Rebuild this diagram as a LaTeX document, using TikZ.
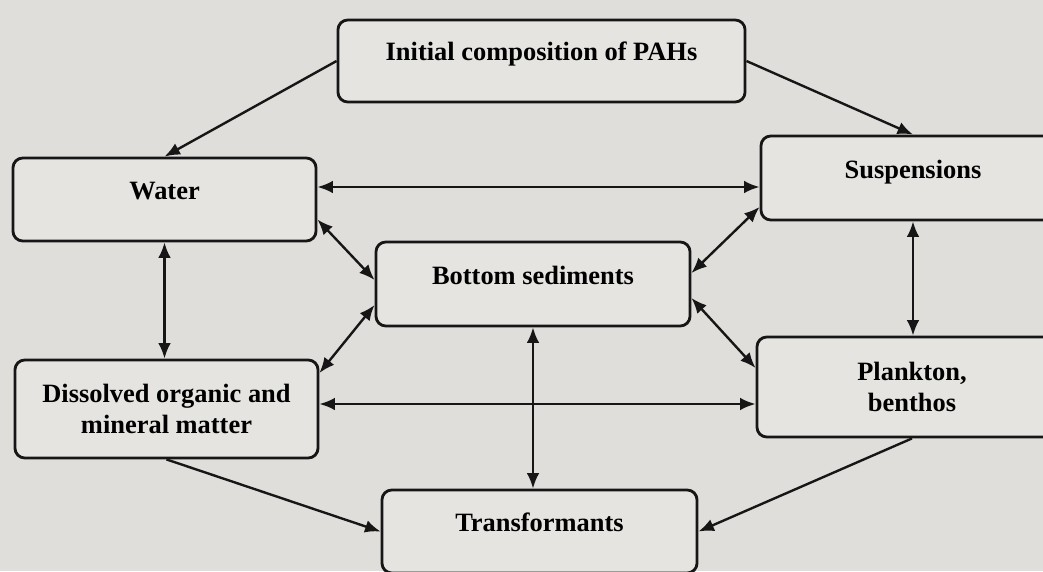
\documentclass[tikz,border=0pt]{standalone}
\usepackage{fontspec}
\setmainfont{Liberation Serif}
\usetikzlibrary{arrows.meta}
\definecolor{paper}{RGB}{223,222,219}
\definecolor{boxbg}{RGB}{229,228,225}
\definecolor{ink}{RGB}{22,22,22}

\begin{document}
\begin{tikzpicture}[x=0.025cm, y=-0.025cm,
      box/.style={draw=ink, fill=boxbg, line width=2pt, rounded corners=7pt,
                  font=\fontsize{18.8}{22.5}\selectfont\bfseries,
                  align=center, inner sep=2pt},
      onel/.style={text height=0.45cm, text depth=0.45cm},
      arr/.style={->, >={Latex[length=11pt,width=9pt]}, line width=1.7pt, draw=ink},
      biarr/.style={arr, <->}
  ]
    \path[use as bounding box, fill=paper] (0,0) rectangle (1043,571);
    \clip (0,0) rectangle (1043,571);

    \node[box, onel, minimum width=10.175cm, minimum height=2.05cm] (init) at (541.5,61) {Initial composition of PAHs};
    \node[box, onel, minimum width=7.575cm, minimum height=2.075cm] (water) at (164.5,199.5) {Water};
    \node[box, onel, minimum width=7.6cm, minimum height=2.1cm] (susp) at (913,178) {Suspensions};
    \node[box, onel, minimum width=7.85cm, minimum height=2.1cm] (bottom) at (533,284) {Bottom sediments};
    \node[box, minimum width=7.575cm, minimum height=2.45cm] (dissolved) at (166.5,409) {Dissolved organic and\\ mineral matter};
    \node[box, minimum width=7.75cm, minimum height=2.5cm] (plankton) at (912,387) {Plankton,\\ benthos};
    \node[box, onel, minimum width=7.875cm, minimum height=2.075cm] (trans) at (539.5,531.5) {Transformants};

    \coordinate (rowtop) at (0,187);
    \coordinate (rowmid) at (0,404);

    \draw[arr] (init.west) -- (water.north);
    \draw[arr] (init.east) -- (susp.north);
    \draw[biarr] (water.east |- rowtop) -- (susp.west |- rowtop);
    \draw[biarr] (water.south) -- (water.south |- dissolved.north);
    \draw[biarr] ([yshift=-0.5cm]water.east) -- ([yshift=0.1cm]bottom.west);
    \draw[biarr] ([yshift=-0.725cm]susp.west) -- ([yshift=0.275cm]bottom.east);
    \draw[biarr] ([yshift=-0.525cm]bottom.west) -- ([yshift=0.9cm]dissolved.east);
    \draw[biarr] ([yshift=-0.35cm]bottom.east) -- ([yshift=0.475cm]plankton.west);
    \draw[biarr] (dissolved.east |- rowmid) -- (plankton.west |- rowmid);
    \draw[biarr] (susp.south) -- (susp.south |- plankton.north);
    \draw[biarr] (bottom.south) -- (bottom.south |- trans.north);
    \draw[arr] (dissolved.south) -- (trans.west);
    \draw[arr] (plankton.south) -- (trans.east);
  \end{tikzpicture}
\end{document}
